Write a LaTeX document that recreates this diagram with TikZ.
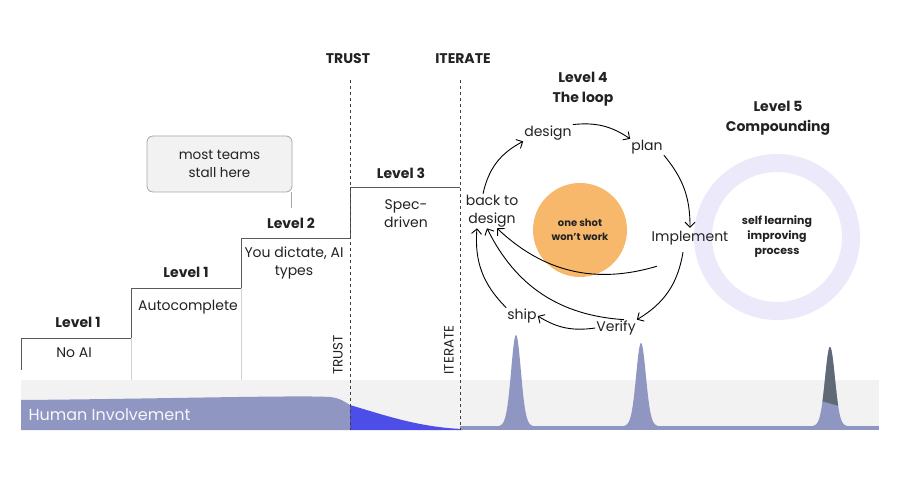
\documentclass[tikz,border=0pt]{standalone}
\usepackage{fontspec}
\setmainfont{Poppins}
\usetikzlibrary{arrows.meta, positioning, calc}
\definecolor{invpurple}{HTML}{9096C2}
\definecolor{invblue}{HTML}{4D4DE8}
\definecolor{bandgray}{HTML}{F2F2F2}
\definecolor{shotorange}{HTML}{F7B86C}
\definecolor{ringlav}{HTML}{ECE9FA}
\definecolor{peakslate}{HTML}{5F6A76}
\definecolor{stepgray}{HTML}{5A5A5A}
\definecolor{inkdark}{HTML}{222222}
\tikzset{
  lvl/.style={font=\fontsize{14}{20}\selectfont\bfseries, align=center, text=inkdark},
  desc/.style={font=\fontsize{14}{18}\selectfont, align=center, text=inkdark},
  gate/.style={font=\fontsize{14}{16}\selectfont\bfseries, text=inkdark},
  gatev/.style={font=\fontsize{13.5}{15}\selectfont, rotate=90, text=inkdark},
  stage/.style={font=\fontsize{14}{18}\selectfont, align=center,
    inner sep=1pt, text=inkdark},
  note/.style={rectangle, rounded corners=6pt, draw=gray!70, fill=bandgray,
    line width=.8pt, minimum width=145pt, minimum height=56pt,
    align=center, font=\fontsize{13.5}{18}\selectfont, text=inkdark},
  arr/.style={-{Straight Barb[length=5pt,width=10pt]}, draw=black,
    line width=.9pt},
  stepline/.style={draw=stepgray, line width=.9pt},
  riser/.style={draw=gray!35, line width=.6pt},
  gateline/.style={draw=black!75, dashed, line width=.7pt},
}

\begin{document}
\begin{tikzpicture}[x=1pt, y=1pt]
  \useasboundingbox (0,0) rectangle (900,477);

  % involvement band
  \fill[bandgray] (21,47) rectangle (879,97);
  \fill[invpurple] (21,47) -- (21,77)
    .. controls (150,78) and (300,82) .. (330,80)
    .. controls (340,79) and (345,75) .. (350,72) -- (350,47) -- cycle;
  \fill[invblue] (350,72) .. controls (390,60) and (420,50) .. (462,48)
    -- (462,47) -- (350,47) -- cycle;
  \fill[invpurple] (460,47) rectangle (879,51);
  \foreach \c/\a/\b/\h in {516/490/542/87, 641/615/667/79, 830/804/856/75} {
    \fill[invpurple] plot[domain=\a:\b, samples=120]
      (\x, {50+\h*exp(-((\x-\c)/6.8)^2)+5*exp(-((\x-\c)/13)^2)}) -- cycle;
  }
  \begin{scope}
    \clip (810,79) -- (850,68) -- (850,140) -- (810,140) -- cycle;
    \fill[peakslate] plot[domain=804:856, samples=120]
      (\x, {50+75*exp(-((\x-830)/6.8)^2)+5*exp(-((\x-830)/13)^2)}) -- cycle;
  \end{scope}
  \node[anchor=west, text=white!92!invpurple,
    font=\fontsize{16}{18}\selectfont] (human) at (25,62) {Human Involvement};

  % steps
  \draw[stepline] (21,107) -- (21,139) -- (131,139) -- (131,189)
    -- (241,189) -- (241,239) -- (350,239) -- (350,290) -- (460,290);
  \draw[riser] (131,139) -- (131,97);
  \draw[riser] (241,189) -- (241,97);
  \draw[gateline] (350,397) -- (350,47);
  \draw[gateline] (460,397) -- (460,47);

  \node[gate] (trust)   at (348,418) {TRUST};
  \node[gate] (iterate) at (463,418) {ITERATE};
  \node[gatev] (trustv)   at (338,122) {TRUST};
  \node[gatev] (iteratev) at (449,127) {ITERATE};

  \node[lvl]  (noaihead) at (78,155)  {Level 1};
  \node[desc] (noai)     at (74,124)  {No AI};
  \node[lvl]  (autohead) at (186,205) {Level 1};
  \node[desc] (auto)     at (188,170) {Autocomplete};
  \node[lvl]  (dicthead) at (291,254) {Level 2};
  \node[desc] (dict)     at (294,214) {You dictate, AI\\types};
  \node[lvl]  (spechead) at (401,304) {Level 3};
  \node[desc] (spec)     at (406,263) {Spec-\\driven};

  \node[note] (stall) at (219.5,313) {most teams\\stall here};
  \coordinate (stallend) at (291,269);
  \draw[draw=gray!70, line width=.8pt] (stall.south -| stallend) -- (stallend);

  % compounding
  \node[lvl] (comphead) at (778,359) {Level 5\\Compounding};
  \node[circle, draw=ringlav, line width=18pt, minimum size=148pt,
    align=center, font=\fontsize{11}{15}\selectfont\bfseries,
    text=inkdark] (selflearn) at (777,240) {self learning\\improving\\process};

  % the loop
  \node[lvl] (loophead) at (583,388) {Level 4\\The loop};
  \node[circle, fill=shotorange, minimum size=94pt, align=center,
    font=\fontsize{10}{14}\selectfont\bfseries, text=inkdark] (shot)
    at (580,247) {one shot\\won't work};
  \node[stage] (design) at (548,344) {design};
  \node[stage] (plan)   at (647,330) {plan};
  \node[stage] (impl)   at (690,239) {Implement};
  \node[stage] (verify) at (616,149) {Verify};
  \node[stage] (ship)   at (522,161) {ship};
  \node[stage] (back)   at (492,266) {back to\\design};

  \draw[arr] ([xshift=-9pt]back.north) to[bend left=25] (design.south west);
  \draw[arr] (design.north east) to[bend left=20] (plan.north west);
  \draw[arr] (plan.south east) to[bend left=20] ([yshift=2pt]impl.north);
  \draw[arr] ([xshift=-7pt,yshift=-6pt]impl.south) to[bend left=25]
    (verify.north east);
  \draw[arr] (verify.west) to[bend left=20] (ship.east);
  \draw[arr] (ship.north west) to[bend left=25] ([xshift=-15pt]back.south);
  \draw[arr] ([xshift=8pt]verify.north) to[bend left=30] ([xshift=-5pt]back.south);
  \draw[arr] ([xshift=-33pt,yshift=-20pt]impl.south) to[bend left=30]
    ([xshift=5pt]back.south);
\end{tikzpicture}
\end{document}
